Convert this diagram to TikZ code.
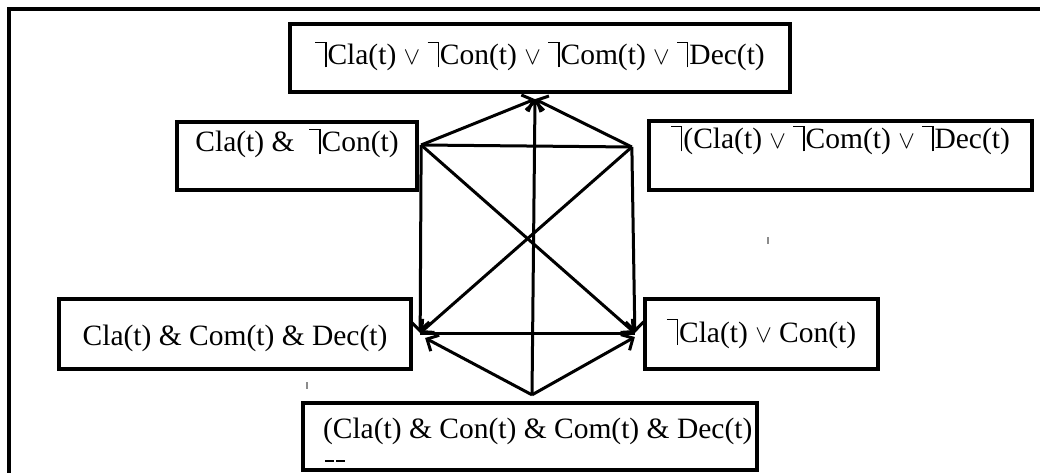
\documentclass[tikz,border=0pt]{standalone}
\usepackage{fontspec}
\setmainfont{Liberation Serif}
\usepackage{tikz}
\usetikzlibrary{arrows.meta, calc}

\newcommand{\nego}{\rule[22pt]{10pt}{1.3pt}\rule[-2.5pt]{1.3pt}{25.8pt}\kern1pt}
\newcommand{\vor}{{\fontsize{25}{25}\selectfont$\vee$}}

\begin{document}
\begin{tikzpicture}[
  x=1pt, y=-1pt,
  box/.style={rectangle, draw, line width=3.3pt, inner sep=0pt, font=\fontsize{29.5}{34}\selectfont, text height=24pt, text depth=10pt},
  link/.style={line width=3pt},
  arrow/.style={link, -{Straight Barb[length=9pt, width=18pt]}},
  speck/.style={rectangle, inner sep=0pt, fill=black!45, minimum width=1.2pt, minimum height=7pt}
]
\useasboundingbox (0,0) rectangle (1040,473);

% Frame
\draw[line width=4pt] (9,473) -- (9,9) -- (1040,9);

% Boxes
\node[box, minimum width=500pt, minimum height=68pt] (neg_all) at (540,58) {\nego Cla(t) \vor{} \nego Con(t) \vor{} \nego Com(t) \vor{} \nego Dec(t)\hspace{10pt}};
\node[box, minimum width=240pt, minimum height=68pt, text depth=32pt] (cla_con) at (297,156) {Cla(t) \& \ \nego Con(t)\hspace{8pt}};
\node[box, minimum width=383pt, minimum height=69pt, text depth=37pt] (neg_ccd) at (840.5,155.5) {\nego(Cla(t) \vor{} \nego Com(t) \vor{} \nego Dec(t)};
\node[box, minimum width=352pt, minimum height=70pt, text depth=2pt] (cla_com_dec) at (235,334) {Cla(t) \& Com(t) \& Dec(t)};
\node[box, minimum width=233pt, minimum height=70pt, text depth=8pt] (ncla_con) at (761.5,334) {\nego Cla(t) \vor{} Con(t)};
\node[box, minimum width=454pt, minimum height=67pt, text depth=21pt] (all_and) at (530,436.5) {\makebox[414pt][l]{(Cla(t) \& Con(t) \& Com(t) \& Dec(t)}};

% Stray marks
\node[speck] (speck_a) at (768,240) {};
\node[speck] (speck_b) at (307,385) {};
\node[inner sep=0pt] (dashes) at (335,461) {\rule{9pt}{1.3pt}\hspace{2pt}\rule{9pt}{1.3pt}};

% Corners of the hexagon
\coordinate (v_top) at ($(neg_all.south)+(-5,5.5)$);
\coordinate (v_lt) at ($(cla_con.east)+(2.5,-11)$);
\coordinate (v_rt) at ($(neg_ccd.west)+(-15.5,-8.5)$);
\coordinate (v_lb) at ($(cla_com_dec.east)+(7.5,-1)$);
\coordinate (v_rb) at ($(ncla_con.west)+(-8.5,-1)$);
\coordinate (v_bot) at ($(all_and.north)+(2,-6.5)$);

% Connectors
\draw[arrow] (v_lt) -- (v_top);
\draw[arrow] (v_rt) -- (v_top);
\draw[arrow] (v_bot) -- (v_top);
\draw[link] (v_lt) -- (v_rt);
\draw[link] (v_lb) -- (v_rb);
\draw[arrow] (v_lt) -- (v_lb);
\draw[arrow] (v_rt) -- (v_rb);
\draw[arrow] (v_lt) -- (v_rb);
\draw[arrow] (v_rt) -- (v_lb);
\draw[arrow] (v_bot) -- ($(v_lb)+(5,5)$);
\draw[arrow] (v_bot) -- ($(v_rb)+(0,4)$);

\end{tikzpicture}
\end{document}
